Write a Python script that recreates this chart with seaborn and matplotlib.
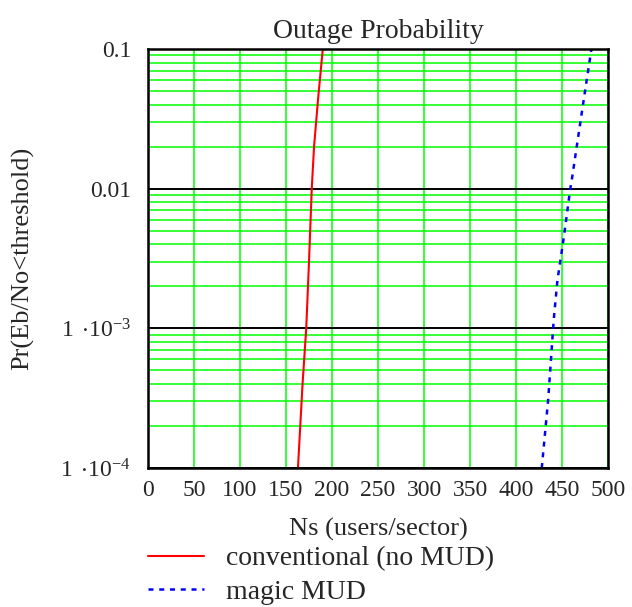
import matplotlib
matplotlib.use("Agg")
import matplotlib.pyplot as plt
import matplotlib.ticker as mticker
import numpy as np
import pandas as pd
import seaborn as sns

# ---- data ----
ns_conv = [163, 168, 172, 175, 178, 180.5, 185, 190]
pr_conv = [1e-4, 4e-4, 1e-3, 3e-3, 1e-2, 2e-2, 4.5e-2, 1e-1]

ns_mud = [428, 435, 441, 445, 452, 459, 461, 466, 474, 482]
pr_mud = [1e-4, 3.1e-4, 1.15e-3, 2.2e-3, 4.5e-3, 1e-2, 1.2e-2, 2e-2, 4.5e-2, 1e-1]

x_ticks = [0, 50, 100, 150, 200, 250, 300, 350, 400, 450, 500]
y_ticks = [1e-4, 1e-3, 1e-2, 1e-1]
y_tick_labels = [r"1$\,\cdot\!$10$^{-4}$", r"1$\,\cdot\!$10$^{-3}$", "0.01", "0.1"]

series_names = ["conventional (no MUD)", "magic MUD"]
title = "Outage Probability"
x_label = "Ns (users/sector)"
y_label = "Pr(Eb/No<threshold)"

df = pd.concat([
    pd.DataFrame({"Ns": ns_conv, "Pr": pr_conv, "series": series_names[0]}),
    pd.DataFrame({"Ns": ns_mud, "Pr": pr_mud, "series": series_names[1]}),
])

sns.set_style("white")
plt.rcParams["font.family"] = ["Liberation Serif", "DejaVu Serif"]
plt.rcParams["mathtext.fontset"] = "custom"
plt.rcParams["mathtext.rm"] = "Liberation Serif"
plt.rcParams["mathtext.default"] = "regular"

fig = plt.figure(figsize=(6.32, 6.07), dpi=100)
ax = fig.add_axes([148/632, 1-468/607, (608-148)/632, (468-49)/607])

sns.lineplot(data=df[df.series == series_names[0]], x="Ns", y="Pr", ax=ax,
             color="#ff0000", lw=1.5, label=series_names[0], sort=False)
sns.lineplot(data=df[df.series == series_names[1]], x="Ns", y="Pr", ax=ax,
             color="#0000ff", lw=1.8, label=series_names[1], sort=False,
             linestyle=(0, (2.0, 2.3)))

ax.set_yscale("log")
ax.set_xlim(0, 500)
ax.set_ylim(1e-4, 1e-1)
ax.set_xticks(x_ticks)
ax.set_xticklabels([str(t) for t in x_ticks])
ax.set_yticks(y_ticks)
ax.set_yticklabels(y_tick_labels)
ax.yaxis.set_minor_locator(mticker.LogLocator(base=10, subs=np.arange(2, 10)))
ax.yaxis.set_minor_formatter(mticker.NullFormatter())

ax.set_axisbelow(True)
ax.grid(True, which="major", axis="x", color="#00ff00", lw=1.1)
ax.grid(True, which="minor", axis="y", color="#00ff00", lw=1.1)
ax.grid(True, which="major", axis="y", color="black", lw=1.4)

ax.tick_params(axis="both", which="both", length=0, labelsize=17)
ax.tick_params(axis="y", pad=12)
ax.tick_params(axis="x", pad=9)
for s in ax.spines.values():
    s.set_color("black")
    s.set_linewidth(1.8)
    s.set_visible(True)

ax.set_title(title, fontsize=20, pad=8)
ax.set_xlabel(x_label, fontsize=19, labelpad=12)
ax.set_ylabel(y_label, fontsize=19, labelpad=19)

handles, labels = ax.get_legend_handles_labels()
ax.get_legend().remove()
fig.legend(handles, labels, loc="upper left",
           bbox_to_anchor=(148/632, 1-546/607), frameon=False,
           fontsize=20, borderpad=0, borderaxespad=0,
           handlelength=2.0, handletextpad=0.8, labelspacing=0.28)

fig.savefig("out.png", dpi=100)
